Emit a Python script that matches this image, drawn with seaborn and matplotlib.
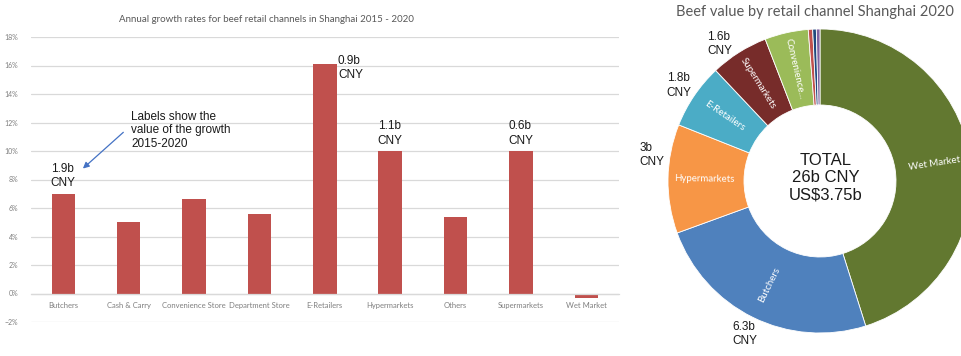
import matplotlib
matplotlib.use("Agg")
import matplotlib.pyplot as plt
from matplotlib.ticker import PercentFormatter
import numpy as np
import pandas as pd
import seaborn as sns

# ---- growth rates by channel (2015-2020 CAGR) ----
categories = ["Butchers", "Cash & Carry", "Convenience Store", "Department Store",
              "E-Retailers", "Hypermarkets", "Others", "Supermarkets", "Wet Market"]
growth_pct = [7.0, 5.0, 6.6, 5.6, 16.1, 10.0, 5.4, 10.0, -0.3]
growth_value_labels = ["1.9b\nCNY", "", "", "", "0.9b\nCNY", "1.1b\nCNY", "", "0.6b\nCNY", ""]
y_ticks_pct = [-2, 0, 2, 4, 6, 8, 10, 12, 14, 16, 18]

# ---- 2020 value by channel (billion CNY) ----
channels = ["Wet Market", "Butchers", "Hypermarkets", "E-Retailers", "Supermarkets",
            "Convenience Store", "Cash & Carry", "Department Store", "Others"]
value_bn = [11.7, 6.3, 3.0, 1.8, 1.6, 1.2, 0.12, 0.1, 0.1]
slice_names = ["Wet Market", "Butchers", "Hypermarkets", "E-Retailers", "Supermarkets",
               "Convenience...", "", "", ""]
slice_value_labels = ["", "6.3b\nCNY", "3b\nCNY", "1.8b\nCNY", "1.6b\nCNY", "", "", "", ""]
slice_colors = ["#627830", "#4F81BD", "#F79646", "#4BACC6", "#772C2A",
                "#9BBB59", "#C0504D", "#1F497D", "#8064A2"]
total_text = "TOTAL\n26b CNY\nUS$3.75b"

sns.set_style("white")
TITLE_FONT = ["Lato", "DejaVu Sans"]
LABEL_FONT = ["Liberation Sans", "DejaVu Sans"]
plt.rcParams["font.family"] = TITLE_FONT

W, H = 961, 356
fig = plt.figure(figsize=(W / 100, H / 100), dpi=100)
fig.patch.set_facecolor("white")

# ================= bar chart =================
ax = fig.add_axes([30.6 / W, (H - 322) / H, (619 - 30.6) / W, (322 - 37) / H])
df = pd.DataFrame({"channel": categories, "growth": np.array(growth_pct) / 100})
sns.barplot(data=df, x="channel", y="growth", color="#C0504D", saturation=1,
            width=0.36, linewidth=0, ax=ax)
ax.set_ylim(-0.02, 0.18)
ax.set_xlim(-0.5, len(categories) - 0.5)
ax.set_yticks(np.array(y_ticks_pct) / 100)
ax.yaxis.set_major_formatter(PercentFormatter(1.0, decimals=0))
ax.yaxis.grid(True, color="#D9D9D9", linewidth=0.9)
ax.set_axisbelow(True)
ax.set_xlabel("")
ax.set_ylabel("")
for s in ["top", "right", "left"]:
    ax.spines[s].set_visible(False)
ax.spines["bottom"].set_position(("data", 0))
ax.spines["bottom"].set_color("#D9D9D9")
ax.spines["bottom"].set_linewidth(0.9)
ax.tick_params(axis="y", length=0, pad=9, labelsize=5, labelcolor="#7F7F7F")
ax.tick_params(axis="x", length=0, pad=6, labelsize=5.5, labelcolor="#7F7F7F")

# value labels above bars (to the right when there is no headroom)
ymax = ax.get_ylim()[1]
for i, (g, lab) in enumerate(zip(growth_pct, growth_value_labels)):
    if not lab:
        continue
    top = g / 100
    if top + 0.025 > ymax:
        ax.text(i + 0.2, top - 0.003, lab, ha="left", va="center", fontsize=8.5,
                family=LABEL_FONT, color="#1A1A1A", linespacing=1.25)
    else:
        ax.text(i, top + 0.003, lab, ha="center", va="bottom", fontsize=8.5,
                family=LABEL_FONT, color="#1A1A1A", linespacing=1.25,
                multialignment="left")

ax.annotate("Labels show the\nvalue of the growth\n2015-2020",
            xy=(0.3, 0.0877), xytext=(1.04, 0.1284),
            ha="left", va="top", fontsize=8.5, family=LABEL_FONT, color="#1A1A1A",
            linespacing=1.2,
            arrowprops=dict(arrowstyle="-|>", color="#4472C4", lw=0.9,
                            shrinkA=0, shrinkB=0, mutation_scale=9,
                            relpos=(-0.08, 0.45)))

fig.text(266 / W, 1 - 19 / H, "Annual growth rates for beef retail channels in Shanghai 2015 - 2020",
         ha="center", va="center", fontsize=7, color="#595959")

# ================= donut chart =================
cx, cy, R = 820, 181, 152
half = 160
ax2 = fig.add_axes([(cx - half) / W, (H - cy - half) / H, 2 * half / W, 2 * half / H])
wedges, _ = ax2.pie(value_bn, colors=slice_colors, startangle=90, counterclock=False,
                    radius=1, wedgeprops=dict(width=0.5, edgecolor="white", linewidth=0.6))
lim = half / R
ax2.set_xlim(-lim, lim)
ax2.set_ylim(-lim, lim)
ax2.axis("off")

# nudges (degrees) for the outer value labels
label_nudge = {"Hypermarkets": -8, "Supermarkets": 4}
for w, name, vlab, ch in zip(wedges, slice_names, slice_value_labels, channels):
    mid = (w.theta1 + w.theta2) / 2
    rad = np.deg2rad(mid)
    if name:
        rot = mid % 360
        if 90 < rot < 270:
            rot -= 180
        ax2.text(0.76 * np.cos(rad), 0.76 * np.sin(rad), name, ha="center", va="center",
                 rotation=rot, rotation_mode="anchor", fontsize=7, color="white")
    if vlab:
        a = np.deg2rad(mid + label_nudge.get(ch, 0))
        ax2.text(1.12 * np.cos(a), 1.12 * np.sin(a), vlab, ha="center", va="center",
                 fontsize=8.5, family=LABEL_FONT, color="#1A1A1A", linespacing=1.25,
                 multialignment="left")

ax2.text(0.04, 0.02, total_text, ha="center", va="center", fontsize=12,
         family=LABEL_FONT, color="#1A1A1A", linespacing=1.2)

fig.text(676 / W, 1 - 12 / H, "Beef value by retail channel Shanghai 2020",
         ha="left", va="center", fontsize=10.5, color="#595959")

fig.savefig("out.png", dpi=100, facecolor="white")
